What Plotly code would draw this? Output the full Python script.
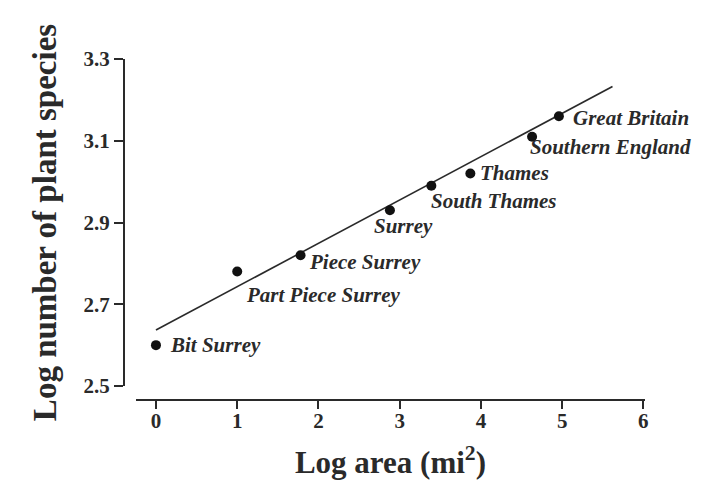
import plotly.graph_objects as go

# Species–area data (log10 scale)
places = ["Bit Surrey", "Part Piece Surrey", "Piece Surrey", "Surrey",
          "South Thames", "Thames", "Southern England", "Great Britain"]
log_area = [0.0, 1.0, 1.78, 2.88, 3.39, 3.87, 4.63, 4.96]
log_species = [2.60, 2.78, 2.82, 2.93, 2.99, 3.02, 3.11, 3.16]

# Fitted line: log S = intercept + slope * log A
fit_intercept = 2.637
fit_slope = 0.106
fit_x_range = [0.0, 5.62]

x_ticks = [0, 1, 2, 3, 4, 5, 6]
y_ticks = [2.5, 2.7, 2.9, 3.1, 3.3]

# Label offsets (pixels) relative to each point
label_dx = [12, 7, 6, -18, -2, 8, -4, 12]
label_dy = [0, -23, -7, -16, -15, 0, -10, -2]

ink = "#2a2a2a"
serif = "Liberation Serif"

fig = go.Figure()

fig.add_trace(go.Scatter(
    x=fit_x_range,
    y=[fit_intercept + fit_slope * v for v in fit_x_range],
    mode="lines",
    line=dict(color=ink, width=1.6),
    hoverinfo="skip",
))

fig.add_trace(go.Scatter(
    x=log_area, y=log_species, mode="markers",
    marker=dict(color="#111111", size=10),
    text=places,
))

for name, xv, yv, dx, dy in zip(places, log_area, log_species, label_dx, label_dy):
    fig.add_annotation(
        x=xv, y=yv, text=name, showarrow=False,
        xanchor="left", yanchor="middle",
        xshift=dx, yshift=dy,
        font=dict(family=serif, size=21, color=ink, weight="bold", style="italic"),
    )

fig.update_layout(
    width=715, height=488,
    margin=dict(l=124, r=70, t=59, b=88),
    paper_bgcolor="white", plot_bgcolor="white",
    showlegend=False,
    xaxis=dict(
        domain=[0.023, 1], anchor="free", position=0,
        range=[-0.246, 6.02],
        tickvals=x_ticks, ticktext=[str(t) for t in x_ticks],
        showline=True, linecolor=ink, linewidth=2,
        ticks="outside", ticklen=8, tickwidth=1.5, tickcolor=ink,
        ticklabelstandoff=-6,
        showgrid=False, zeroline=False,
        tickfont=dict(family=serif, size=21, color=ink, weight="bold"),
        title=dict(text="Log area (mi<sup>2</sup>)", standoff=18,
                   font=dict(family=serif, size=31, color=ink, weight="bold")),
    ),
    yaxis=dict(
        domain=[0.041, 1], anchor="free", position=0,
        range=[2.5, 3.3],
        tickvals=y_ticks, ticktext=[f"{t:.1f}" for t in y_ticks],
        showline=True, linecolor=ink, linewidth=2,
        ticks="outside", ticklen=9, tickwidth=1.5, tickcolor=ink,
        showgrid=False, zeroline=False,
        tickfont=dict(family=serif, size=21, color=ink, weight="bold"),
        title=dict(text="Log number of plant species", standoff=16,
                   font=dict(family=serif, size=33, color=ink, weight="bold")),
    ),
)

fig.write_html("out.html")
